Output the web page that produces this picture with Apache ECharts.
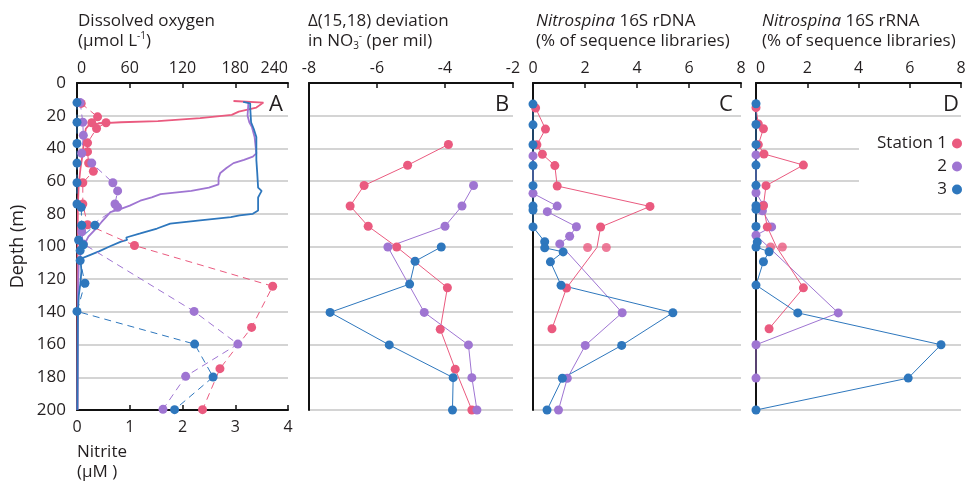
<!DOCTYPE html>
<html>
<head>
    <meta charset="utf-8">
    <title>Nitrite, oxygen and Nitrospina profiles</title>
    <script src="https://cdn.jsdelivr.net/npm/echarts@6/dist/echarts.min.js"></script>
    <style>
        html, body { margin: 0; padding: 0; background: #fff; }
        #main { width: 971px; height: 481px; }
    </style>
</head>
<body>
<div id="main"></div>
<script>
    // ---- A: dissolved oxygen (continuous profiles) ----
    var o1Depth = [11, 12, 15, 17.5, 19.5, 21.5, 23, 23.3, 24, 24.7, 25.5, 28, 35, 45, 52, 62, 75, 90, 120, 200];
    var o1Val = [178, 212, 204, 184, 176, 140, 100, 92, 50, 26, 14, 10, 8, 6, 4, 2, 1, 0.8, 0.5, 0.5];
    var o2Depth = [12, 20, 24, 27, 33, 43, 45, 47, 49, 52, 55, 58, 62, 64, 66, 68, 70, 72, 75, 77, 79, 82, 85, 90, 94, 98, 102, 110, 130, 200];
    var o2Val = [195, 194, 196, 199, 202, 204, 200, 190, 178, 170, 163, 161, 161, 150, 130, 95, 85, 72, 60, 50, 38, 33, 28, 20, 13, 9, 5, 2, 1, 0.5];
    var o3Depth = [11.5, 12.5, 15, 24, 28, 33, 47, 55, 64, 66, 68, 70, 78, 80, 81, 82, 84, 86, 89, 92, 94.5, 96, 97, 100, 103, 106, 107.5, 115, 122, 130, 140, 200];
    var o3Val = [189, 197, 197, 198, 201, 204, 204, 205, 206, 210, 208, 206, 206, 200, 185, 175, 140, 106, 91, 72, 56, 57, 50, 37, 25, 11, 4, 5, 4, 2, 1, 0.5];

    // ---- A: nitrite (uM) ----
    var n1Depth = [12.5, 20.7, 24.3, 24.3, 27.8, 36.6, 42, 49, 54, 61, 74, 86.7, 99.4, 124.3, 149.5, 174.7, 199.8];
    var n1Val = [0.08, 0.39, 0.28, 0.55, 0.37, 0.2, 0.2, 0.22, 0.31, 0.11, 0.11, 0.2, 1.09, 3.71, 3.31, 2.71, 2.38];
    var n2Depth = [12, 24, 32, 43, 49, 61, 66, 74, 76, 91, 98.4, 139.7, 159.7, 179.4, 199.6];
    var n2Val = [0.06, 0.11, 0.12, 0.09, 0.28, 0.68, 0.77, 0.72, 0.77, 0.09, 0.12, 2.22, 3.05, 2.06, 1.63];
    var n3Depth = [12, 24, 37, 49, 61, 74, 76, 87, 87, 96, 99, 102.5, 108.6, 122.5, 139.7, 159.7, 179.8, 199.8];
    var n3Val = [0, 0, 0, 0, 0, 0, 0.08, 0.09, 0.34, 0.03, 0.12, 0.06, 0.06, 0.15, 0, 2.23, 2.58, 1.85];

    // ---- B: delta(15,18) deviation ----
    var b1Depth = [37.6, 50.3, 62.7, 75.2, 87.6, 100.3, 125.2, 150.6, 175, 200];
    var b1Val = [-3.90, -5.10, -6.38, -6.79, -6.26, -5.42, -3.93, -4.14, -3.70, -3.21];
    var b2Depth = [62.7, 75.2, 87.6, 100.3, 140.3, 160.2, 180.2, 200];
    var b2Val = [-3.16, -3.50, -4.00, -5.68, -4.61, -3.31, -3.21, -3.06];
    var b3Depth = [100.3, 109, 123, 140.3, 160.2, 180.2, 200];
    var b3Val = [-4.11, -4.88, -5.04, -7.38, -5.64, -3.76, -3.78];

    // ---- C: Nitrospina 16S rDNA ----
    var c1Depth = [15.3, 28.2, 37.8, 43.6, 50.5, 63, 75.5, 88.1, 100.6, 125.4, 150.3];
    var c1Val = [0.10, 0.48, 0.15, 0.36, 0.84, 0.93, 4.50, 2.60, 2.46, 1.29, 0.73];
    var c1RepDepth = [100.6, 100.6];
    var c1RepVal = [2.10, 2.82];
    var c2Depth = [44.6, 67.5, 75.3, 78.7, 87.9, 93.7, 98.4, 140.5, 160.5, 180.6, 200];
    var c2Val = [0, 0, 0.93, 0.55, 1.67, 1.41, 1.03, 3.43, 2.01, 1.32, 0.98];
    var c3Depth = [12.9, 25.6, 37.8, 50.5, 62.8, 75.3, 77.7, 88, 97.1, 100.8, 103.3, 109.4, 123.7, 140.5, 160.5, 180.6, 200];
    var c3Val = [0, 0, 0, 0, 0, 0, 0, 0, 0.45, 0.45, 1.16, 0.67, 1.08, 5.38, 3.41, 1.13, 0.54];

    // ---- D: Nitrospina 16S rRNA ----
    var d1Depth = [15.1, 25.0, 28.0, 37.7, 43.4, 50.2, 62.8, 75.1, 88.0, 100.3, 125.3, 150.3];
    var d1Val = [0, 0.09, 0.29, 0.09, 0.31, 1.85, 0.39, 0.29, 0.44, 0.80, 1.85, 0.51];
    var d1RepDepth = [100.3, 100.3];
    var d1RepVal = [0.57, 1.03];
    var d2Depth = [44.0, 67.1, 74.7, 78.2, 88.0, 93.1, 140.6, 160.1, 180.5];
    var d2Val = [0, 0, 0.29, 0.25, 0.61, 0, 3.21, 0, 0];
    var d3Depth = [12.7, 25.4, 37.7, 50.2, 62.6, 75.1, 77.2, 87.8, 97.2, 100.3, 103.2, 109.3, 123.6, 140.6, 160.1, 180.5, 200];
    var d3Val = [0, 0, 0, 0, 0, 0, 0, 0, 0.05, 0, 0.51, 0.29, 0, 1.63, 7.22, 5.94, 0];

    var stations = ['Station 1', '2', '3'];
    var colors = ['#EA5A7F', '#9F75D2', '#2E77BD'];
    var font = '"Open Sans", "Noto Sans", sans-serif';
    var ink = '#231F20';

    function zip(vals, depths) {
        return vals.map(function (v, i) { return [v, depths[i]]; });
    }

    var myChart = echarts.init(document.getElementById('main'), null, {renderer: 'canvas'});

    var grids = [
        {left: 77, top: 83, width: 211, height: 327},
        {left: 309, top: 83, width: 204, height: 327},
        {left: 533, top: 83, width: 208, height: 327},
        {left: 756, top: 83, width: 205, height: 327}
    ];

    function topAxis(gridIndex, min, max, interval, minAlign, maxAlign) {
        return {
            type: 'value', gridIndex: gridIndex, position: 'top',
            min: min, max: max, interval: interval,
            axisLine: {show: true, onZero: false, lineStyle: {color: '#111', width: 2}},
            axisTick: {show: true, inside: true, length: 5, lineStyle: {color: '#111', width: 1.5}},
            axisLabel: {
                color: ink, fontSize: 16, fontFamily: font, margin: 7,
                alignMinLabel: minAlign || 'center', alignMaxLabel: maxAlign || 'center'
            },
            splitLine: {show: false}
        };
    }

    var xAxes = [
        topAxis(0, 0, 240, 60, 'left', 'right'),
        {
            type: 'value', gridIndex: 0, position: 'bottom',
            min: 0, max: 4, interval: 1,
            axisLine: {show: true, onZero: false, lineStyle: {color: '#111', width: 2}},
            axisTick: {show: true, inside: true, length: 5, lineStyle: {color: '#111', width: 1.5}},
            axisLabel: {color: ink, fontSize: 16, fontFamily: font, margin: 9},
            splitLine: {show: false}
        },
        topAxis(1, -8, -2, 2),
        topAxis(2, 0, 8, 2),
        topAxis(3, 0, 8, 2, 'left')
    ];

    var yAxes = [0, 1, 2, 3].map(function (g) {
        return {
            type: 'value', gridIndex: g, inverse: true,
            min: 0, max: 200, interval: 20,
            axisLine: {show: true, onZero: false, lineStyle: {color: '#111', width: 2}},
            axisTick: {show: false},
            axisLabel: {show: g === 0, color: ink, fontSize: 17, fontFamily: font, margin: 11},
            splitLine: {show: true, lineStyle: {color: '#C6C6C6', width: 1.5}},
            name: g === 0 ? 'Depth (m)' : '',
            nameLocation: 'middle', nameGap: 50,
            nameTextStyle: {color: ink, fontSize: 18, fontFamily: font}
        };
    });

    var series = [];

    // 溶解氧剖面
    [[o1Val, o1Depth], [o2Val, o2Depth], [o3Val, o3Depth]].forEach(function (d, k) {
        series.push({
            name: stations[k], type: 'line', xAxisIndex: 0, yAxisIndex: 0,
            data: zip(d[0], d[1]), symbol: 'none', color: colors[k],
            lineStyle: {width: 1.8, color: colors[k]}
        });
    });

    // 亚硝酸盐（虚线）
    [[n1Val, n1Depth], [n2Val, n2Depth], [n3Val, n3Depth]].forEach(function (d, k) {
        series.push({
            name: stations[k], type: 'line', xAxisIndex: 1, yAxisIndex: 0,
            data: zip(d[0], d[1]), symbol: 'circle', symbolSize: 9, color: colors[k],
            itemStyle: {color: colors[k]},
            lineStyle: {width: 1, type: [7, 5], color: colors[k]}
        });
    });

    function profile(k, vals, depths, axis, hideIdx) {
        var data = zip(vals, depths).map(function (p, i) {
            return hideIdx === i ? {value: p, symbol: 'none'} : p;
        });
        series.push({
            name: stations[k], type: 'line', xAxisIndex: axis, yAxisIndex: axis - 1,
            data: data, symbol: 'circle', symbolSize: 9, color: colors[k],
            itemStyle: {color: colors[k]},
            lineStyle: {width: 1, color: colors[k]}
        });
    }

    profile(0, b1Val, b1Depth, 2);
    profile(1, b2Val, b2Depth, 2);
    profile(2, b3Val, b3Depth, 2);

    profile(1, c2Val, c2Depth, 3);
    profile(0, c1Val, c1Depth, 3, 8);
    profile(2, c3Val, c3Depth, 3);
    series.push({
        name: stations[0], type: 'scatter', xAxisIndex: 3, yAxisIndex: 2,
        data: zip(c1RepVal, c1RepDepth), symbolSize: 9, itemStyle: {color: colors[0]}
    });

    profile(1, d2Val, d2Depth, 4);
    profile(0, d1Val, d1Depth, 4, 9);
    profile(2, d3Val, d3Depth, 4);
    series.push({
        name: stations[0], type: 'scatter', xAxisIndex: 4, yAxisIndex: 3,
        data: zip(d1RepVal, d1RepDepth), symbolSize: 9, itemStyle: {color: colors[0]}
    });

    var titleStyle = {
        color: ink, fontSize: 17, fontWeight: 'normal', fontFamily: font, lineHeight: 20,
        rich: {
            i: {fontStyle: 'italic', fontSize: 17, fontFamily: font, color: ink, lineHeight: 20},
            sup: {fontSize: 10, fontFamily: font, color: ink, verticalAlign: 'top', lineHeight: 20},
            sub: {fontSize: 10, fontFamily: font, color: ink, verticalAlign: 'bottom', lineHeight: 20}
        }
    };

    var legends = stations.map(function (s, k) {
        return {
            data: [s], orient: 'vertical', right: 9, top: 135 + k * 23,
            padding: 0, align: 'right', icon: 'circle', itemWidth: 10, itemHeight: 10,
            selectedMode: false, z: 20,
            textStyle: {color: ink, fontSize: 17, fontFamily: font}
        };
    });

    var letters = [['A', 276], ['B', 502], ['C', 726], ['D', 951]].map(function (l) {
        return {
            type: 'text', x: l[1], y: 105, z: 20,
            style: {text: l[0], fontSize: 22, fontFamily: font, fill: ink, align: 'center', verticalAlign: 'middle'}
        };
    });

    var option = {
        animation: false,
        backgroundColor: '#fff',
        title: [
            {text: 'Dissolved oxygen\n(µmol L{sup|-1})', left: 78, top: 11, padding: 0, textStyle: titleStyle},
            {text: 'Δ(15,18) deviation\nin NO{sub|3}{sup|-} (per mil)', left: 308, top: 11, padding: 0, textStyle: titleStyle},
            {text: '{i|Nitrospina} 16S rDNA\n(% of sequence libraries)', left: 536, top: 11, padding: 0, textStyle: titleStyle},
            {text: '{i|Nitrospina} 16S rRNA\n(% of sequence libraries)', left: 762, top: 11, padding: 0, textStyle: titleStyle},
            {text: 'Nitrite\n(µM )', left: 77, top: 442, padding: 0, textStyle: titleStyle}
        ],
        legend: legends,
        grid: grids,
        xAxis: xAxes,
        yAxis: yAxes,
        graphic: [
            {type: 'rect', shape: {x: 859, y: 136, width: 112, height: 58}, style: {fill: '#fff'}, z: 1}
        ].concat(letters),
        series: series
    };

    myChart.setOption(option);
</script>
</body>
</html>
